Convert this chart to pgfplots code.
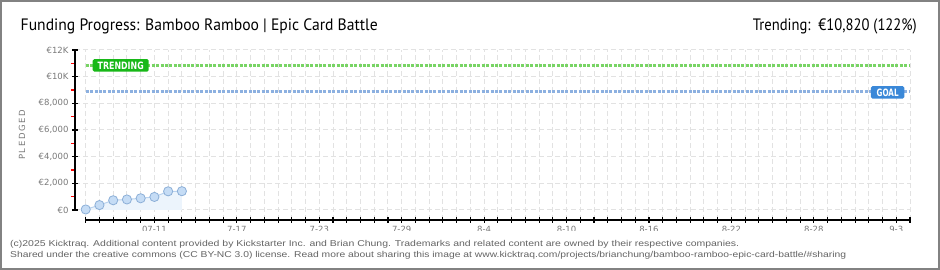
\documentclass[border=0pt]{standalone}
\usepackage{pgfplots}
\pgfplotsset{compat=1.18}
\usepackage{fontspec}
\setmainfont{DejaVu Sans}
\newfontfamily\titlefont{PT Sans}
\newfontfamily\footfont{Liberation Sans}
\definecolor{gridc}{RGB}{226,226,226}
\definecolor{trendbox}{RGB}{24,184,24}
\definecolor{trendline}{RGB}{120,212,100}
\definecolor{goalbox}{RGB}{58,136,216}
\definecolor{goalline}{RGB}{140,176,224}
\definecolor{markfill}{RGB}{197,220,245}
\definecolor{markdraw}{RGB}{140,175,215}
\definecolor{areafill}{RGB}{236,244,252}
\definecolor{linec}{RGB}{185,210,238}
\definecolor{labgray}{RGB}{120,120,120}
\definecolor{bordergray}{RGB}{130,130,130}
\definecolor{foot}{RGB}{100,100,100}
\begin{document}
\begin{tikzpicture}
\path[use as bounding box] (0,0) rectangle (940pt,270pt);
\begin{axis}[
  at={(75pt,50pt)}, anchor=south west,
  scale only axis, width=835pt, height=170pt,
  xmin=-0.78, xmax=60, ymin=-750, ymax=12000,
  axis line style={draw=none},
  xtick pos=bottom, ytick pos=left,
  scaled y ticks=false,
  xtick={0,...,60}, xticklabels={},
  ytick={0,2000,4000,6000,8000,10000,12000},
  yticklabels={€0,{€2,000},{€4,000},{€6,000},{€8,000},€10K,€12K},
  grid=major,
  major grid style={draw=gridc, dash pattern=on 5pt off 3pt, line width=1pt},
  tick align=center, major tick length=6pt,
  tick style={black, line width=1.1pt},
  ticklabel style={font=\fontsize{8.5}{9}\selectfont, text=labgray},
  extra x ticks={5,11,17,23,29,35,41,47,53,59},
  extra x tick labels={07-11,7-17,7-23,7-29,8-4,8-10,8-16,8-22,8-28,9-3},
  extra x tick style={grid=none, tick style={draw=none}},
  extra y ticks={1000,3000,5000,7000,9000,11000},
  extra y tick labels={},
  extra y tick style={grid=none, tick align=outside, major tick length=4pt, tick style={red, line width=1.1pt}},
  ylabel={\addfontfeatures{LetterSpace=18}PLEDGED},
  ylabel style={font=\fontsize{8.5}{9}\selectfont, text=labgray, anchor=center, at={(axis description cs:-0.0635,0.5)}},
  clip=false,
]
\draw[black, line width=1.2pt] (axis cs:-0.78,0) -- (axis cs:-0.78,12000);
\draw[black, line width=1.2pt] (axis cs:0,-750) -- (axis cs:60,-750);
\addplot[goalline, line width=3pt, dash pattern=on 3pt off 1.4pt] coordinates {(0,8870) (60,8870)};
\addplot[trendline, line width=3pt, dash pattern=on 3pt off 1.4pt] coordinates {(0,10820) (60,10820)};
\addplot[fill=areafill, draw=none] coordinates {(0,40) (1,370) (2,730) (3,790) (4,880) (5,980) (6,1400) (7,1410)} \closedcycle;
\addplot[linec, line width=1pt, mark=*, mark size=4.6pt, mark options={fill=markfill, draw=markdraw, line width=0.8pt}] coordinates {(0,40) (1,370) (2,730) (3,790) (4,880) (5,980) (6,1400) (7,1410)};
\node[fill=trendbox, rounded corners=1.5pt, minimum width=56pt, minimum height=12.6pt, inner sep=0pt, text=white] at (axis cs:2.55,10845) {\resizebox{46pt}{7.5pt}{\bfseries TRENDING}};
\node[fill=goalbox, rounded corners=1.5pt, minimum width=33.5pt, minimum height=12.4pt, inner sep=0pt, text=white] at (axis cs:58.37,8820) {\resizebox{22pt}{7.5pt}{\bfseries GOAL}};
\end{axis}
\fill[white] (2pt,2pt) rectangle (938pt,39pt);
\draw[bordergray, line width=1.6pt] (0.8pt,0.8pt) rectangle (939.2pt,269.2pt);
\node[anchor=base west, inner sep=0pt] at (20.5pt,239pt) {\resizebox{357pt}{\height}{\titlefont\fontsize{16.5}{18}\selectfont Funding Progress: Bamboo Ramboo | Epic Card Battle}};
\node[anchor=base east, inner sep=0pt] at (917pt,239pt) {\resizebox{164pt}{\height}{\titlefont\fontsize{16.5}{18}\selectfont Trending:\ \ €10,820 (122\%)}};
\node[anchor=base west, inner sep=0pt, text=foot] at (10pt,23.5pt) {\resizebox{729pt}{\height}{\footfont\fontsize{8.5}{10}\selectfont (c)2025 Kicktraq. Additional content provided by Kickstarter Inc. and Brian Chung. Trademarks and related content are owned by their respective companies.}};
\node[anchor=base west, inner sep=0pt, text=foot] at (10pt,12.5pt) {\resizebox{836pt}{\height}{\footfont\fontsize{8.5}{10}\selectfont Shared under the creative commons (CC BY-NC 3.0) license. Read more about sharing this image at www.kicktraq.com/projects/brianchung/bamboo-ramboo-epic-card-battle/\#sharing}};
\end{tikzpicture}
\end{document}
